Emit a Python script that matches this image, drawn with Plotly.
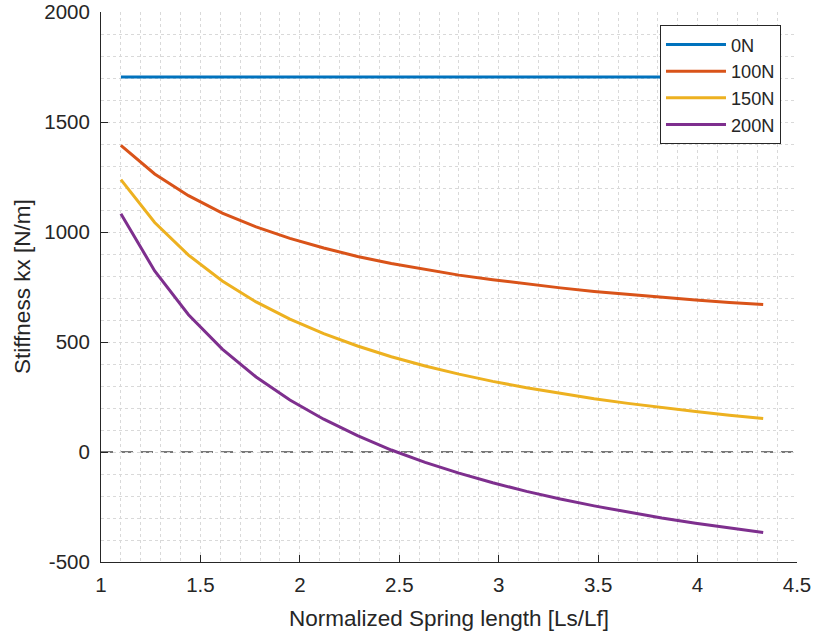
import plotly.graph_objects as go

x_ratio = [1.10, 1.27, 1.44, 1.61, 1.78, 1.95, 2.12, 2.29, 2.46, 2.63,
           2.80, 2.97, 3.14, 3.31, 3.48, 3.65, 3.82, 3.99, 4.16, 4.33]

k_0N = [1705] * 20
k_100N = [1394, 1264, 1165, 1086, 1023, 971, 927, 889, 857, 829,
          804, 783, 763, 746, 730, 716, 703, 691, 680, 670]
k_150N = [1238, 1043, 895, 777, 682, 604, 538, 482, 433, 391,
          354, 321, 292, 266, 242, 221, 201, 184, 167, 152]
k_200N = [1083, 823, 624, 468, 341, 236, 149, 74, 9, -47,
          -96, -140, -179, -214, -245, -274, -300, -324, -346, -366]

series_names = ["0N", "100N", "150N", "200N"]
series_colors = ["#0072BD", "#D95319", "#EDB120", "#7E2F8E"]

x_tickvals = [1, 1.5, 2, 2.5, 3, 3.5, 4, 4.5]
x_ticktext = ["1", "1.5", "2", "2.5", "3", "3.5", "4", "4.5"]
y_tickvals = [-500, 0, 500, 1000, 1500, 2000]
y_ticktext = ["-500", "0", "500", "1000", "1500", "2000"]

FONT = "Arial, Liberation Sans, Helvetica, sans-serif"
INK = "#262626"
GRID = "#d9d9d9"

fig = go.Figure()
for name, ys, col in zip(series_names, [k_0N, k_100N, k_150N, k_200N], series_colors):
    fig.add_trace(go.Scatter(x=x_ratio, y=ys, mode="lines", name=name,
                             line=dict(color=col, width=3)))

fig.add_shape(type="line", xref="paper", x0=0, x1=1, yref="y", y0=0, y1=0,
              line=dict(color="#4d4d4d", width=1.3, dash="12px,8px"), layer="between")

axis_common = dict(
    showline=True, linecolor=INK, linewidth=1, mirror=False,
    ticks="inside", ticklen=7, tickcolor=INK, tickwidth=1,
    showgrid=True, gridcolor=GRID, griddash="dot", gridwidth=1,
    zeroline=False, automargin=False,
    tickfont=dict(family=FONT, size=20.5, color=INK),
)

fig.update_xaxes(
    range=[1, 4.5], tickmode="array", tickvals=x_tickvals, ticktext=x_ticktext,
    ticklabelstandoff=4,
    minor=dict(dtick=0.1, showgrid=True, gridcolor=GRID, griddash="dot", gridwidth=1,
               ticks=""),
    title=dict(text="Normalized Spring length [Ls/Lf]",
               font=dict(family=FONT, size=22.5, color=INK), standoff=15),
    **axis_common,
)
fig.update_yaxes(
    range=[-500, 2000], tickmode="array", tickvals=y_tickvals, ticktext=y_ticktext,
    ticklabelstandoff=6,
    minor=dict(dtick=100, showgrid=True, gridcolor=GRID, griddash="dot", gridwidth=1,
               ticks=""),
    **axis_common,
)

fig.add_annotation(
    text="Stiffness kx [N/m]", textangle=-90,
    xref="paper", yref="paper", x=0, y=0.5, xanchor="center", yanchor="middle",
    xshift=-79, showarrow=False,
    font=dict(family=FONT, size=22.5, color=INK),
)

fig.update_layout(
    width=815, height=635,
    margin=dict(l=101, r=18, t=12, b=73),
    paper_bgcolor="white", plot_bgcolor="white",
    font=dict(family=FONT, color=INK),
    legend=dict(
        x=0.977, y=0.976, xanchor="right", yanchor="top",
        bgcolor="white", bordercolor=INK, borderwidth=1,
        itemwidth=60,
        font=dict(family=FONT, size=18.2, color=INK),
    ),
    showlegend=True,
)

fig.write_html("out.html")
